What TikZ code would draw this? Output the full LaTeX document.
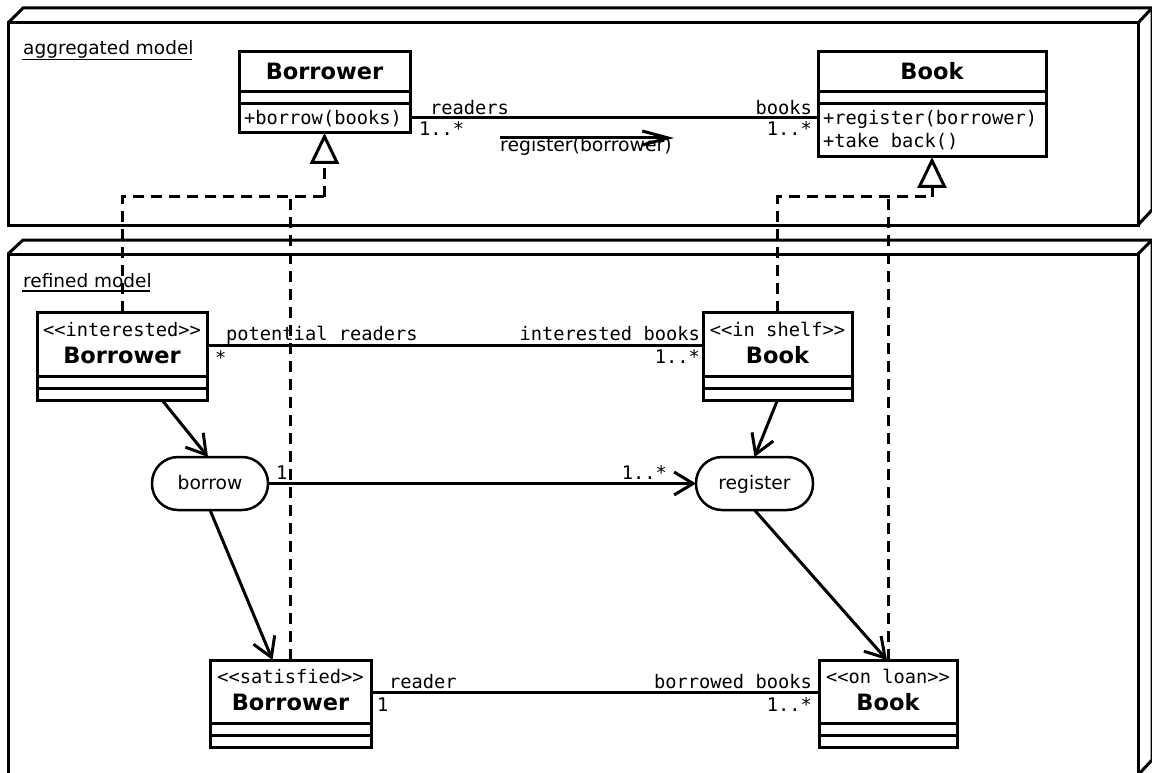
\documentclass[tikz,border=0pt]{standalone}
\usepackage{fontspec}
\setmainfont{DejaVu Sans}
\setmonofont{DejaVu Sans Mono}
\usetikzlibrary{arrows.meta,calc}

\tikzset{
  pkgface/.style={draw, line width=3pt, inner sep=0pt, outer sep=0pt},
  pkgedge/.style={line width=3pt, line join=miter},
  pkglabel/.style={inner sep=0pt, anchor=base west, font=\fontsize{18.5}{22}\selectfont},
  umlclass/.style={draw, line width=3pt, inner sep=0pt, outer sep=0pt},
  compart/.style={line width=3pt},
  cname/.style={inner sep=0pt, anchor=base, font=\fontsize{22.5}{25}\selectfont\bfseries},
  stereo/.style={inner sep=0pt, anchor=base, font=\fontsize{18.7}{22}\ttfamily},
  member/.style={inner sep=0pt, anchor=base west, font=\fontsize{18.7}{22}\ttfamily},
  role/.style={inner sep=0pt, font=\fontsize{18.7}{22}\ttfamily},
  assoc/.style={line width=3pt},
  flow/.style={line width=3pt, -{Straight Barb[length=19pt, width=23pt]}},
  message/.style={line width=3pt, -{Straight Barb[length=26pt, width=14pt]}},
  realize/.style={line width=3pt, dash pattern=on 11pt off 7pt},
  realizetip/.style={line width=3pt, dash pattern=on 11pt off 7pt,
    -{Triangle[open, length=31pt, width=29pt, fill=white]}},
  action/.style={draw, line width=2.5pt, rounded corners=26pt, inner sep=0pt, outer sep=0pt,
    minimum height=53pt, text height=11pt, text depth=0pt,
    font=\fontsize{18.7}{22}\selectfont},
}

\begin{document}
\begin{tikzpicture}[x=1pt, y=-1pt]
\useasboundingbox (0,0) rectangle (1152,773);
\fill[white] (0,0) rectangle (1152,773);

% ---------- packages (3D frames) ----------
\node[pkgface, minimum width=1130pt, minimum height=202pt] (aggpkg) at (573,124) {};
\draw[pkgedge] (aggpkg.north west) -- ++(15,-15) -- ($(aggpkg.north east)+(14,-15)$)
  -- ($(aggpkg.south east)+(14,-15)$) -- (aggpkg.south east);
\draw[pkgedge] (aggpkg.north east) -- ++(14,-15);
\node[pkglabel] (agglabel) at (23,55) {aggregated model};
\draw[line width=1.5pt] ($(agglabel.base west)+(-1,4.5)$) -- ($(agglabel.base east)+(-2,4.5)$);

\node[pkgface, minimum width=1130pt, minimum height=521pt] (refpkg) at (573,514.5) {};
\draw[pkgedge] (refpkg.north west) -- ++(15,-14) -- ($(refpkg.north east)+(14,-14)$)
  -- ($(refpkg.south east)+(14,-15)$) -- (refpkg.south east);
\draw[pkgedge] (refpkg.north east) -- ++(14,-14);
\node[pkglabel] (reflabel) at (23,287) {refined model};
\draw[line width=1.5pt] ($(reflabel.base west)+(-1,4)$) -- ($(reflabel.base east)+(-2,4)$);

% ---------- aggregated model classes ----------
\node[umlclass, minimum width=171pt, minimum height=81pt] (aBorrower) at (324.5,92.5) {};
\draw[compart] (aBorrower.west |- 0,92) -- (aBorrower.east |- 0,92);
\draw[compart] (aBorrower.west |- 0,104) -- (aBorrower.east |- 0,104);
\node[cname] (aBorrowerName) at (324.5,80) {Borrower};
\node[member] (aBorrowerOp) at (244,125) {+borrow(books)};

\node[umlclass, minimum width=228pt, minimum height=105pt] (aBook) at (932,104.5) {};
\draw[compart] (aBook.west |- 0,92) -- (aBook.east |- 0,92);
\draw[compart] (aBook.west |- 0,104) -- (aBook.east |- 0,104);
\node[cname] (aBookName) at (932,80) {Book};
\node[member] (aBookOp1) at (823,125) {+register(borrower)};
\node[member] (aBookOp2) at (823,148) {+take back()};

% association with roles
\draw[assoc] (aBorrower.east |- 0,118) -- (aBook.west |- 0,118);
\node[role, anchor=base west] (rReaders) at (430,115) {readers};
\node[role, anchor=base west] (mReaders) at (419,136) {1..*};
\node[role, anchor=base east] (rBooks) at (812,115) {books};
\node[role, anchor=base east] (mBooks) at (812,136) {1..*};

% message along the association
\coordinate (msgStart) at (500,138);
\coordinate (msgEnd) at (674,138);
\draw[message] (msgStart) -- (msgEnd);
\node[inner sep=0pt, anchor=base west, font=\fontsize{18.8}{22}\selectfont] (msgLabel) at (500,152) {register(borrower)};

% ---------- refined model classes ----------
\node[umlclass, minimum width=170pt, minimum height=88pt] (iBorrower) at (122,356) {};
\draw[compart] (iBorrower.west |- 0,376) -- (iBorrower.east |- 0,376);
\draw[compart] (iBorrower.west |- 0,388) -- (iBorrower.east |- 0,388);
\node[stereo] (iBorrowerSt) at (122,336) {<<interested>>};
\node[cname] (iBorrowerName) at (122,363) {Borrower};

\node[umlclass, minimum width=149pt, minimum height=88pt] (sBook) at (777.5,356) {};
\draw[compart] (sBook.west |- 0,376) -- (sBook.east |- 0,376);
\draw[compart] (sBook.west |- 0,388) -- (sBook.east |- 0,388);
\node[stereo] (sBookSt) at (777.5,336) {<<in shelf>>};
\node[cname] (sBookName) at (777.5,363) {Book};

\node[umlclass, minimum width=161pt, minimum height=87pt] (tBorrower) at (290.5,703.5) {};
\draw[compart] (tBorrower.west |- 0,723) -- (tBorrower.east |- 0,723);
\draw[compart] (tBorrower.west |- 0,735) -- (tBorrower.east |- 0,735);
\node[stereo] (tBorrowerSt) at (290.5,683) {<<satisfied>>};
\node[cname] (tBorrowerName) at (290.5,710) {Borrower};

\node[umlclass, minimum width=138pt, minimum height=87pt] (lBook) at (888,703.5) {};
\draw[compart] (lBook.west |- 0,723) -- (lBook.east |- 0,723);
\draw[compart] (lBook.west |- 0,735) -- (lBook.east |- 0,735);
\node[stereo] (lBookSt) at (888,683) {<<on loan>>};
\node[cname] (lBookName) at (888,710) {Book};

% actions
\node[action, minimum width=116pt] (borrow) at (210,483.5) {borrow};
\node[action, minimum width=117pt] (register) at (754.5,483.5) {register};

% ---------- associations in the refined model ----------
\draw[assoc] (iBorrower.east |- 0,345) -- (sBook.west |- 0,345);
\node[role, anchor=base west] (rPotential) at (226,340) {potential readers};
\node[role, anchor=base west] (mPotential) at (215,364) {*};
\node[role, anchor=base east] (rInterested) at (700,340) {interested books};
\node[role, anchor=base east] (mInterested) at (700,363) {1..*};

\draw[assoc] (tBorrower.east |- 0,692) -- (lBook.west |- 0,692);
\node[role, anchor=base west] (rReader) at (389,688) {reader};
\node[role, anchor=base west] (mReader) at (377,711) {1};
\node[role, anchor=base east] (rBorrowed) at (812,688) {borrowed books};
\node[role, anchor=base east] (mBorrowed) at (812,711) {1..*};

% ---------- flows ----------
\draw[flow] ([xshift=40pt]iBorrower.south) -- ([xshift=-2pt]borrow.north);
\draw[flow] (sBook.south) -- (register.north);
\draw[flow] (borrow.south) -- ([xshift=-18pt]tBorrower.north);
\draw[flow] (register.south) -- ([xshift=-1pt]lBook.north);
\draw[flow] (borrow.east) -- (register.west);
\node[role, anchor=base west] (mOne) at (276,479) {1};
\node[role, anchor=base east] (mMany) at (667,479) {1..*};

% ---------- realizations ----------
\coordinate (borrowerJoin) at (324.5,197);
\coordinate (bookJoin) at (932,197);
\draw[realize] (iBorrower.north) |- (borrowerJoin);
\draw[realize] (tBorrower.north) -- (tBorrower.north |- borrowerJoin);
\draw[realizetip] (borrowerJoin) -- (aBorrower.south);
\draw[realize] (sBook.north) |- (bookJoin);
\draw[realize] (lBook.north) -- (lBook.north |- bookJoin);
\draw[realizetip] (bookJoin) -- (aBook.south);
\end{tikzpicture}
\end{document}
